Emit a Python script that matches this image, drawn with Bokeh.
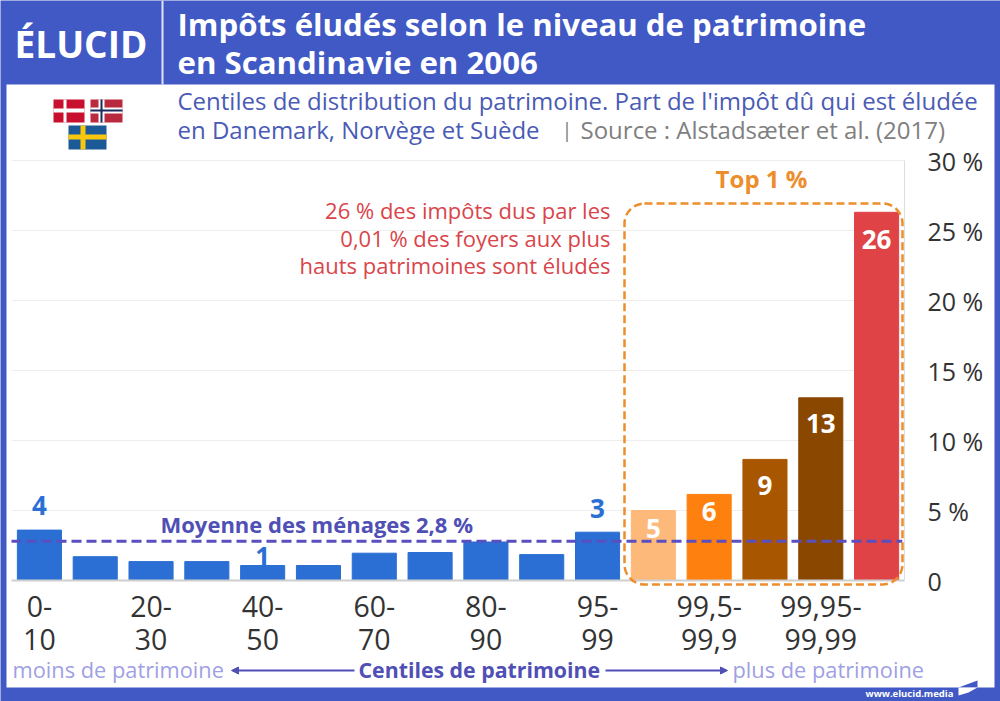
from bokeh.core.properties import value
from bokeh.embed import file_html
from bokeh.resources import INLINE
from bokeh.models import (Label, BoxAnnotation, PolyAnnotation, Arrow, NormalHead,
                          ColumnDataSource, Range1d, LinearAxis, FixedTicker)
from bokeh.plotting import figure

# ---------- data ----------
centile_groups = ["0-10", "10-20", "20-30", "30-40", "40-50", "50-60", "60-70", "70-80", "80-90",
                  "90-95", "95-99", "99-99,5", "99,5-99,9", "99,9-99,95", "99,95-99,99", "99,99-100"]
evaded_share = [3.6, 1.7, 1.35, 1.35, 1.07, 1.07, 1.95, 2.0, 2.75, 1.85, 3.45, 5.0, 6.15, 8.65, 13.05, 26.3]
bar_labels = ["4", "", "", "", "1", "", "", "", "", "", "3", "5", "6", "9", "13", "26"]
x_tick_first_line = {0: "0-", 2: "20-", 4: "40-", 6: "60-", 8: "80-", 10: "95-", 12: "99,5-", 14: "99,95-"}
x_tick_second_line = {0: "10", 2: "30", 4: "50", 6: "70", 8: "90", 10: "99", 12: "99,9", 14: "99,99"}
y_ticks = [0, 5, 10, 15, 20, 25, 30]
y_tick_labels = {0: "0", 5: "5 %", 10: "10 %", 15: "15 %", 20: "20 %", 25: "25 %", 30: "30 %"}
household_mean = 2.8

# ---------- layout / styles ----------
W, H = 1000, 701
PLOT_L, PLOT_R, PLOT_T, PLOT_B = 11, 904, 160, 580
XMIN, XMAX, YMIN, YMAX = -0.5, 15.5, 0.0, 30.0
px_x = (PLOT_R - PLOT_L) / (XMAX - XMIN)
px_y = (PLOT_B - PLOT_T) / (YMAX - YMIN)
FONT = "Open Sans"
BLUE_FRAME = "#4059c4"
BAR_BLUE = "#2b6fd4"
bar_colors = [BAR_BLUE] * 11 + ["#fdb97a", "#fe800e", "#a85700", "#8a4700", "#e04345"]
label_colors = ["#2b6fd4"] * 11 + ["white"] * 5
label_offsets = [-25, 0, 0, 0, -9, 0, 0, 0, 0, 0, -24, 18, 17, 26, 26, 27]

p = figure(width=W, height=H, output_backend="svg", toolbar_location=None,
           x_range=Range1d(XMIN - PLOT_L / px_x, XMAX + (W - PLOT_R) / px_x),
           y_range=Range1d(YMIN - (H - PLOT_B) / px_y, YMAX + PLOT_T / px_y),
           min_border=0, x_axis_location=None, y_axis_location=None)
p.styles = {"position": "absolute", "left": "0px", "top": "0px"}
p.background_fill_color = BLUE_FRAME
p.border_fill_color = BLUE_FRAME
p.outline_line_color = None
p.grid.visible = False


def rect_box(l, t, r, b, color, level="annotation"):
    p.add_layout(BoxAnnotation(left=l, right=r, top=t, bottom=b,
                               left_units="canvas", right_units="canvas", top_units="canvas", bottom_units="canvas",
                               fill_color=color, fill_alpha=1, line_color=None, level=level))


def text(x, y, s, size, color, bold=False, align="left"):
    p.add_layout(Label(x=x, y=y, x_units="canvas", y_units="canvas", text=s,
                       text_font=FONT, text_font_size=f"{size}px", text_color=color,
                       text_font_style="bold" if bold else "normal",
                       text_align=align, text_baseline="middle"))


# white page panel
rect_box(6, 84, 994, 687, "white", level="underlay")

# grid lines, top rule and right rule
p.segment(x0=XMIN, x1=XMAX, y0=y_ticks[1:], y1=y_ticks[1:], line_color="#eeeeee", line_width=1)

# axes
def x_axis(labels, standoff, line_color):
    ax = LinearAxis(fixed_location=YMIN, ticker=FixedTicker(ticks=list(labels.keys())),
                    major_label_overrides=labels, bounds=(XMIN, XMAX))
    ax.major_label_text_font = FONT
    ax.major_label_text_font_size = "28.5px"
    ax.major_label_text_color = "#333333"
    ax.major_label_standoff = standoff
    ax.major_tick_line_color = None
    ax.minor_tick_line_color = None
    ax.axis_line_color = line_color
    ax.axis_line_width = 2
    p.add_layout(ax, "below")


x_axis(x_tick_first_line, 9, "#cfcfcf")
x_axis(x_tick_second_line, 42, None)

yaxis = LinearAxis(fixed_location=XMAX, ticker=FixedTicker(ticks=y_ticks),
                   major_label_overrides=y_tick_labels, bounds=(YMIN, YMAX))
yaxis.major_label_text_font = FONT
yaxis.major_label_text_font_size = "25px"
yaxis.major_label_text_color = "#333333"
yaxis.major_label_standoff = 17
yaxis.major_tick_line_color = None
yaxis.minor_tick_line_color = None
yaxis.axis_line_color = "#dddddd"
p.add_layout(yaxis, "right")

# bars
src = ColumnDataSource(dict(x=list(range(len(centile_groups))), group=centile_groups, top=evaded_share,
                            color=bar_colors, label=bar_labels, lcolor=label_colors, off=label_offsets))
p.vbar(x="x", top="top", bottom=0, width=0.79, color="color", source=src)
p.text(x="x", y="top", text="label", y_offset="off", text_color="lcolor", text_align="center",
       text_baseline="middle", text_font=value(FONT), text_font_style="bold", text_font_size="26px", source=src)

# mean line
mean_line = p.segment(x0=[XMIN], x1=[XMAX - 0.04], y0=[household_mean], y1=[household_mean],
                      line_color="#5a4fc0", line_width=3)
mean_line.glyph.line_dash = [10, 5]

# Top 1 % box
p.add_layout(BoxAnnotation(left=624, right=902, top=203, bottom=584,
                           left_units="canvas", right_units="canvas", top_units="canvas", bottom_units="canvas",
                           fill_alpha=0, line_color="#ee8d2b", line_alpha=1, line_width=2.5, line_dash=[8, 4],
                           border_radius=20, level="annotation"))

# header
rect_box(161, 0, 163, 84, "#dfe3f5")
text(14, 43, "ÉLUCID", 37, "white", bold=True)
text(177, 23, "Impôts éludés selon le niveau de patrimoine", 31.2, "white", bold=True)
text(177, 61, "en Scandinavie en 2006", 31.2, "white", bold=True)
text(177, 100, "Centiles de distribution du patrimoine. Part de l'impôt dû qui est éludée", 24, "#4a5bb5")
text(177, 129, "en Danemark, Norvège et Suède", 24, "#4a5bb5")
text(561, 129, "|", 20, "#808080")
text(580, 129, "Source : Alstadsæter et al. (2017)", 24, "#808080")

# flags
rect_box(53, 99, 84, 122, "#c8102e")
rect_box(63, 99, 66, 122, "white")
rect_box(53, 108, 84, 112, "white")
rect_box(90, 99, 122, 122, "#ba2a3f")
rect_box(98, 99, 104, 122, "white")
rect_box(90, 107, 122, 113, "white")
rect_box(100, 99, 102, 122, "#1b2a5e")
rect_box(90, 109, 122, 111, "#1b2a5e")
rect_box(68, 125, 106, 149, "#1b5a96")
rect_box(80, 125, 85, 149, "#f9c80e")
rect_box(68, 134, 106, 139, "#f9c80e")

# annotations
text(761, 178, "Top 1 %", 24, "#ee8d2b", bold=True, align="center")
text(610, 209, "26 % des impôts dus par les", 22, "#d9454b", align="right")
text(610, 237, "0,01 % des foyers aux plus", 22, "#d9454b", align="right")
text(610, 264, "hauts patrimoines sont éludés", 22, "#d9454b", align="right")
text(160, 523, "Moyenne des ménages 2,8 %", 22, "#4f4fb5", bold=True)

# bottom legend
text(12, 669, "moins de patrimoine", 21.8, "#a0a0e4")
text(358, 669, "Centiles de patrimoine", 21.3, "#4f4fb5", bold=True)
text(732, 669, "plus de patrimoine", 21.8, "#a0a0e4")
for x0, x1 in [(354, 231), (605, 727)]:
    p.add_layout(Arrow(x_start=x0, x_end=x1, y_start=670, y_end=670,
                       start_units="canvas", end_units="canvas",
                       line_color="#4f4fb5", line_width=2,
                       end=NormalHead(size=7, fill_color="#4f4fb5", line_color="#4f4fb5")))

# footer
text(865, 693, "www.elucid.media", 9.5, "white", bold=True)
p.add_layout(PolyAnnotation(xs=[958, 977, 977, 958], ys=[687, 680, 687, 687],
                            xs_units="canvas", ys_units="canvas", fill_color=BLUE_FRAME, fill_alpha=1, line_color=None))
p.add_layout(PolyAnnotation(xs=[958, 977, 968, 958], ys=[687, 687, 692, 695],
                            xs_units="canvas", ys_units="canvas", fill_color="white", fill_alpha=1, line_color=None))

open("out.html", "w").write(file_html(p, INLINE))
